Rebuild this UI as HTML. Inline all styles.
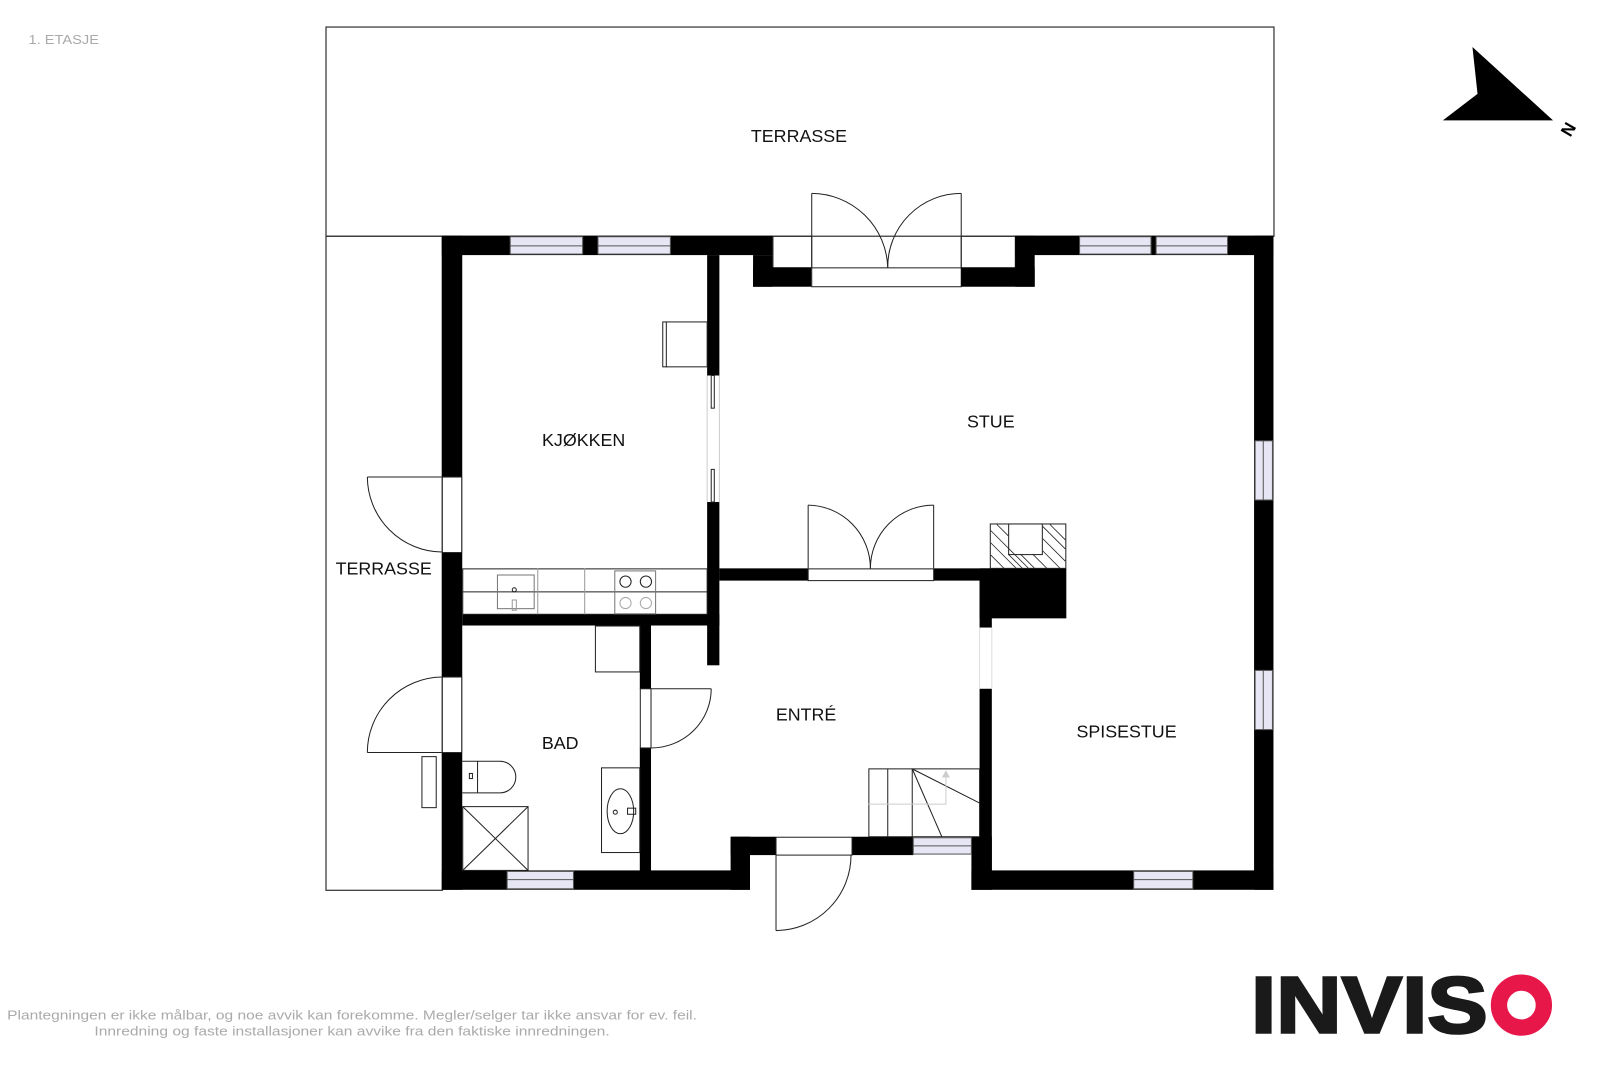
<!DOCTYPE html>
<html><head><meta charset="utf-8"><style>
html,body{margin:0;padding:0;background:#fff;}
svg{display:block}
text{font-family:"Liberation Sans","DejaVu Sans",sans-serif;}
</style></head><body>
<svg width="1600" height="1067" viewBox="0 0 1600 1067" xmlns="http://www.w3.org/2000/svg">
<rect width="1600" height="1067" fill="#fff"/>
<g transform="scale(1.0204)">
<text x="28" y="43" font-size="13" fill="#aaa" textLength="69" lengthAdjust="spacingAndGlyphs">1. ETASJE</text>

<rect x="319.5" y="26.5" width="929" height="205" fill="none" stroke="#333" stroke-width="1.2"/>
<rect x="319.5" y="231.5" width="114" height="641" fill="none" stroke="#333" stroke-width="1.2"/>

<g fill="none" stroke="#222" stroke-width="1">
<path d="M795.5 189.5 A75 75 0 0 1 870 262"/>
<path d="M942 189.5 A72 72 0 0 0 870 262"/>
<line x1="795.5" y1="189.5" x2="795.5" y2="262"/>
<line x1="942" y1="189.5" x2="942" y2="262"/>
<rect x="757.5" y="231.5" width="38" height="31"/>
<rect x="942" y="231.5" width="53" height="31"/>
<rect x="795.5" y="262.5" width="146.5" height="18.5"/>
</g>

<g fill="#000">
<rect x="433" y="231" width="20" height="641"/>
<rect x="433" y="231" width="324" height="19"/>
<rect x="738" y="250" width="19" height="31"/>
<rect x="738" y="262" width="57" height="19"/>
<rect x="942" y="262" width="72" height="19"/>
<rect x="995" y="231" width="19" height="50"/>
<rect x="995" y="231" width="253" height="19"/>
<rect x="1229" y="231" width="19" height="641"/>
<rect x="433" y="853" width="302" height="19"/>
<rect x="716" y="820" width="19" height="52"/>
<rect x="716" y="820" width="44" height="18"/>
<rect x="835" y="820" width="60" height="18"/>
<rect x="952" y="820" width="20" height="52"/>
<rect x="952" y="853" width="296" height="19"/>
<rect x="693" y="250" width="12" height="118"/>
<rect x="693" y="492" width="12" height="160"/>
<rect x="453" y="602" width="252" height="11"/>
<rect x="705" y="557" width="87" height="12"/>
<rect x="915" y="557" width="45" height="12"/>
<rect x="960" y="557" width="85" height="49"/>
<rect x="960" y="557" width="12" height="58"/>
<rect x="960" y="675" width="12" height="180"/>
<rect x="627" y="613" width="11" height="62"/>
<rect x="627" y="733" width="11" height="122"/>
</g>

<g fill="#e6e6f5" stroke="#555" stroke-width="1">
<rect x="500" y="232" width="71" height="17"/><line x1="500" y1="241" x2="571" y2="241"/>
<rect x="586" y="232" width="71" height="17"/><line x1="586" y1="241" x2="657" y2="241"/>
<rect x="1058" y="232" width="70" height="17"/><line x1="1058" y1="241" x2="1128" y2="241"/>
<rect x="1133" y="232" width="70" height="17"/><line x1="1133" y1="241" x2="1203" y2="241"/>
<rect x="1230" y="432" width="17" height="58"/><line x1="1238" y1="432" x2="1238" y2="490"/>
<rect x="1230" y="657" width="17" height="58"/><line x1="1238" y1="657" x2="1238" y2="715"/>
<rect x="497" y="854" width="65" height="17"/><line x1="497" y1="862" x2="562" y2="862"/>
<rect x="1111" y="854" width="58" height="17"/><line x1="1111" y1="862" x2="1169" y2="862"/>
<rect x="895" y="821" width="57" height="16"/><line x1="895" y1="829" x2="952" y2="829"/>
</g>

<g fill="none" stroke="#222" stroke-width="1">
<rect x="697" y="368" width="3" height="32"/>
<rect x="697" y="460" width="3" height="32"/>
<line x1="693" y1="368" x2="693" y2="492" stroke="#ccc"/>
<line x1="705" y1="368" x2="705" y2="492" stroke="#ccc"/>
<rect x="649.5" y="315.5" width="43.5" height="44"/><line x1="653" y1="315.5" x2="653" y2="360"/>
<rect x="792" y="557.5" width="123" height="11.5"/>
<line x1="792" y1="495" x2="792" y2="557"/>
<line x1="915" y1="495" x2="915" y2="557"/>
<path d="M792 495 A62 62 0 0 1 853 557"/>
<path d="M915 495 A62 62 0 0 0 853 557"/>
<rect x="970.5" y="513.5" width="74" height="43.5"/>
<rect x="988.5" y="513.5" width="33" height="30" fill="#fff"/>
<g stroke-width="0.8">
<line x1="971" y1="520" x2="1008" y2="557"/><line x1="971" y1="532" x2="996" y2="557"/><line x1="971" y1="544" x2="984" y2="557"/>
<line x1="977" y1="514" x2="988" y2="525"/><line x1="988" y1="543" x2="1002" y2="557"/>
<line x1="1000" y1="543" x2="1014" y2="557"/><line x1="1012" y1="543" x2="1026" y2="557"/>
<line x1="1022" y1="516" x2="1044" y2="538"/><line x1="1022" y1="528" x2="1044" y2="550"/><line x1="1022" y1="540" x2="1039" y2="557"/>
<line x1="1029" y1="514" x2="1044" y2="529"/>
</g>
<line x1="960" y1="615" x2="960" y2="675" stroke="#ddd"/>
<line x1="972" y1="615" x2="972" y2="675" stroke="#ddd"/>
<rect x="453.5" y="557.5" width="239.5" height="44.5"/>
<line x1="453" y1="580" x2="693" y2="580"/>
<line x1="527" y1="557" x2="527" y2="602" stroke="#999"/>
<line x1="573" y1="557" x2="573" y2="602" stroke="#999"/>
<rect x="487.5" y="563.5" width="36" height="33" stroke="#777"/>
<circle cx="504" cy="578" r="2"/>
<rect x="502" y="588" width="4" height="10" stroke="#999"/>
<rect x="602.5" y="559.5" width="40" height="42" stroke="#777"/>
<circle cx="613" cy="570" r="5.5"/><circle cx="633" cy="570" r="5.5"/>
<circle cx="613" cy="591" r="5.5" stroke="#aaa"/><circle cx="633" cy="591" r="5.5" stroke="#aaa"/>
<rect x="583.5" y="613.5" width="43.5" height="45"/>
<path d="M453 746 H490 A15.5 15.5 0 0 1 490 777 H453"/>
<line x1="468" y1="746" x2="468" y2="777"/>
<rect x="460" y="758" width="3" height="5"/>
<rect x="453.5" y="790.5" width="64" height="62.5"/>
<line x1="453.5" y1="790.5" x2="517.5" y2="853"/><line x1="517.5" y1="790.5" x2="453.5" y2="853"/>
<rect x="589.5" y="752.5" width="37.5" height="83"/>
<ellipse cx="608" cy="795" rx="13" ry="22"/>
<rect x="615" y="792" width="8" height="6"/>
<circle cx="603" cy="796" r="2"/>
<rect x="627.5" y="675" width="10.5" height="58"/>
<line x1="638" y1="675" x2="697" y2="675"/>
<path d="M697 675 A59 58 0 0 1 638 733"/>
<rect x="851.5" y="753.5" width="108.5" height="66.5"/>
<line x1="870" y1="753.5" x2="870" y2="820"/>
<line x1="894" y1="753.5" x2="894" y2="820"/>
<line x1="894" y1="753.5" x2="960" y2="787"/>
<line x1="894" y1="753.5" x2="923" y2="820"/>
<polyline points="851,788 927,788 927,762" stroke="#ccc"/>
<polygon points="923,762 931,762 927,755" fill="#ccc" stroke="none"/>
<rect x="760.5" y="820.5" width="74.5" height="17.5"/>
<line x1="760.5" y1="838" x2="760.5" y2="912"/>
<path d="M760.5 912 A74 74 0 0 0 834 838"/>
<rect x="433.5" y="467.5" width="19" height="74" fill="#fff"/>
<line x1="433" y1="467.5" x2="360" y2="467.5"/>
<path d="M360 467.5 A74 74 0 0 0 433 541"/>
<rect x="433.5" y="663.5" width="19" height="74" fill="#fff"/>
<line x1="433" y1="737.5" x2="360" y2="737.5"/>
<path d="M360 737.5 A74 74 0 0 1 433 663.5"/>
<rect x="413.5" y="741.5" width="14" height="50"/>
</g>

<g font-size="17.5" fill="#111" text-anchor="middle">
<text x="783" y="139">TERRASSE</text>
<text x="572" y="437">KJØKKEN</text>
<text x="971" y="419">STUE</text>
<text x="376" y="563">TERRASSE</text>
<text x="790" y="706">ENTRÉ</text>
<text x="549" y="734">BAD</text>
<text x="1104" y="723">SPISESTUE</text>
</g>

<polygon points="1443,46 1522,118 1414,118 1448,92" fill="#000"/>
<text x="0" y="0" font-size="17" font-weight="bold" fill="#000" transform="translate(1539,135) rotate(-60)">N</text>

<g font-size="13" fill="#aaa" text-anchor="middle">
<text x="345" y="999" textLength="676" lengthAdjust="spacingAndGlyphs">Plantegningen er ikke målbar, og noe avvik kan forekomme. Megler/selger tar ikke ansvar for ev. feil.</text>
<text x="345" y="1015" textLength="505" lengthAdjust="spacingAndGlyphs">Innredning og faste installasjoner kan avvike fra den faktiske innredningen.</text>
</g>

<text x="1226" y="1012" font-size="78" font-weight="bold" fill="#1a1a1a" stroke="#1a1a1a" stroke-width="2.5" textLength="232" lengthAdjust="spacingAndGlyphs">INVIS</text>
<circle cx="1491" cy="985" r="22" fill="none" stroke="#e8174a" stroke-width="16"/>
</g>
</svg>
</body></html>
